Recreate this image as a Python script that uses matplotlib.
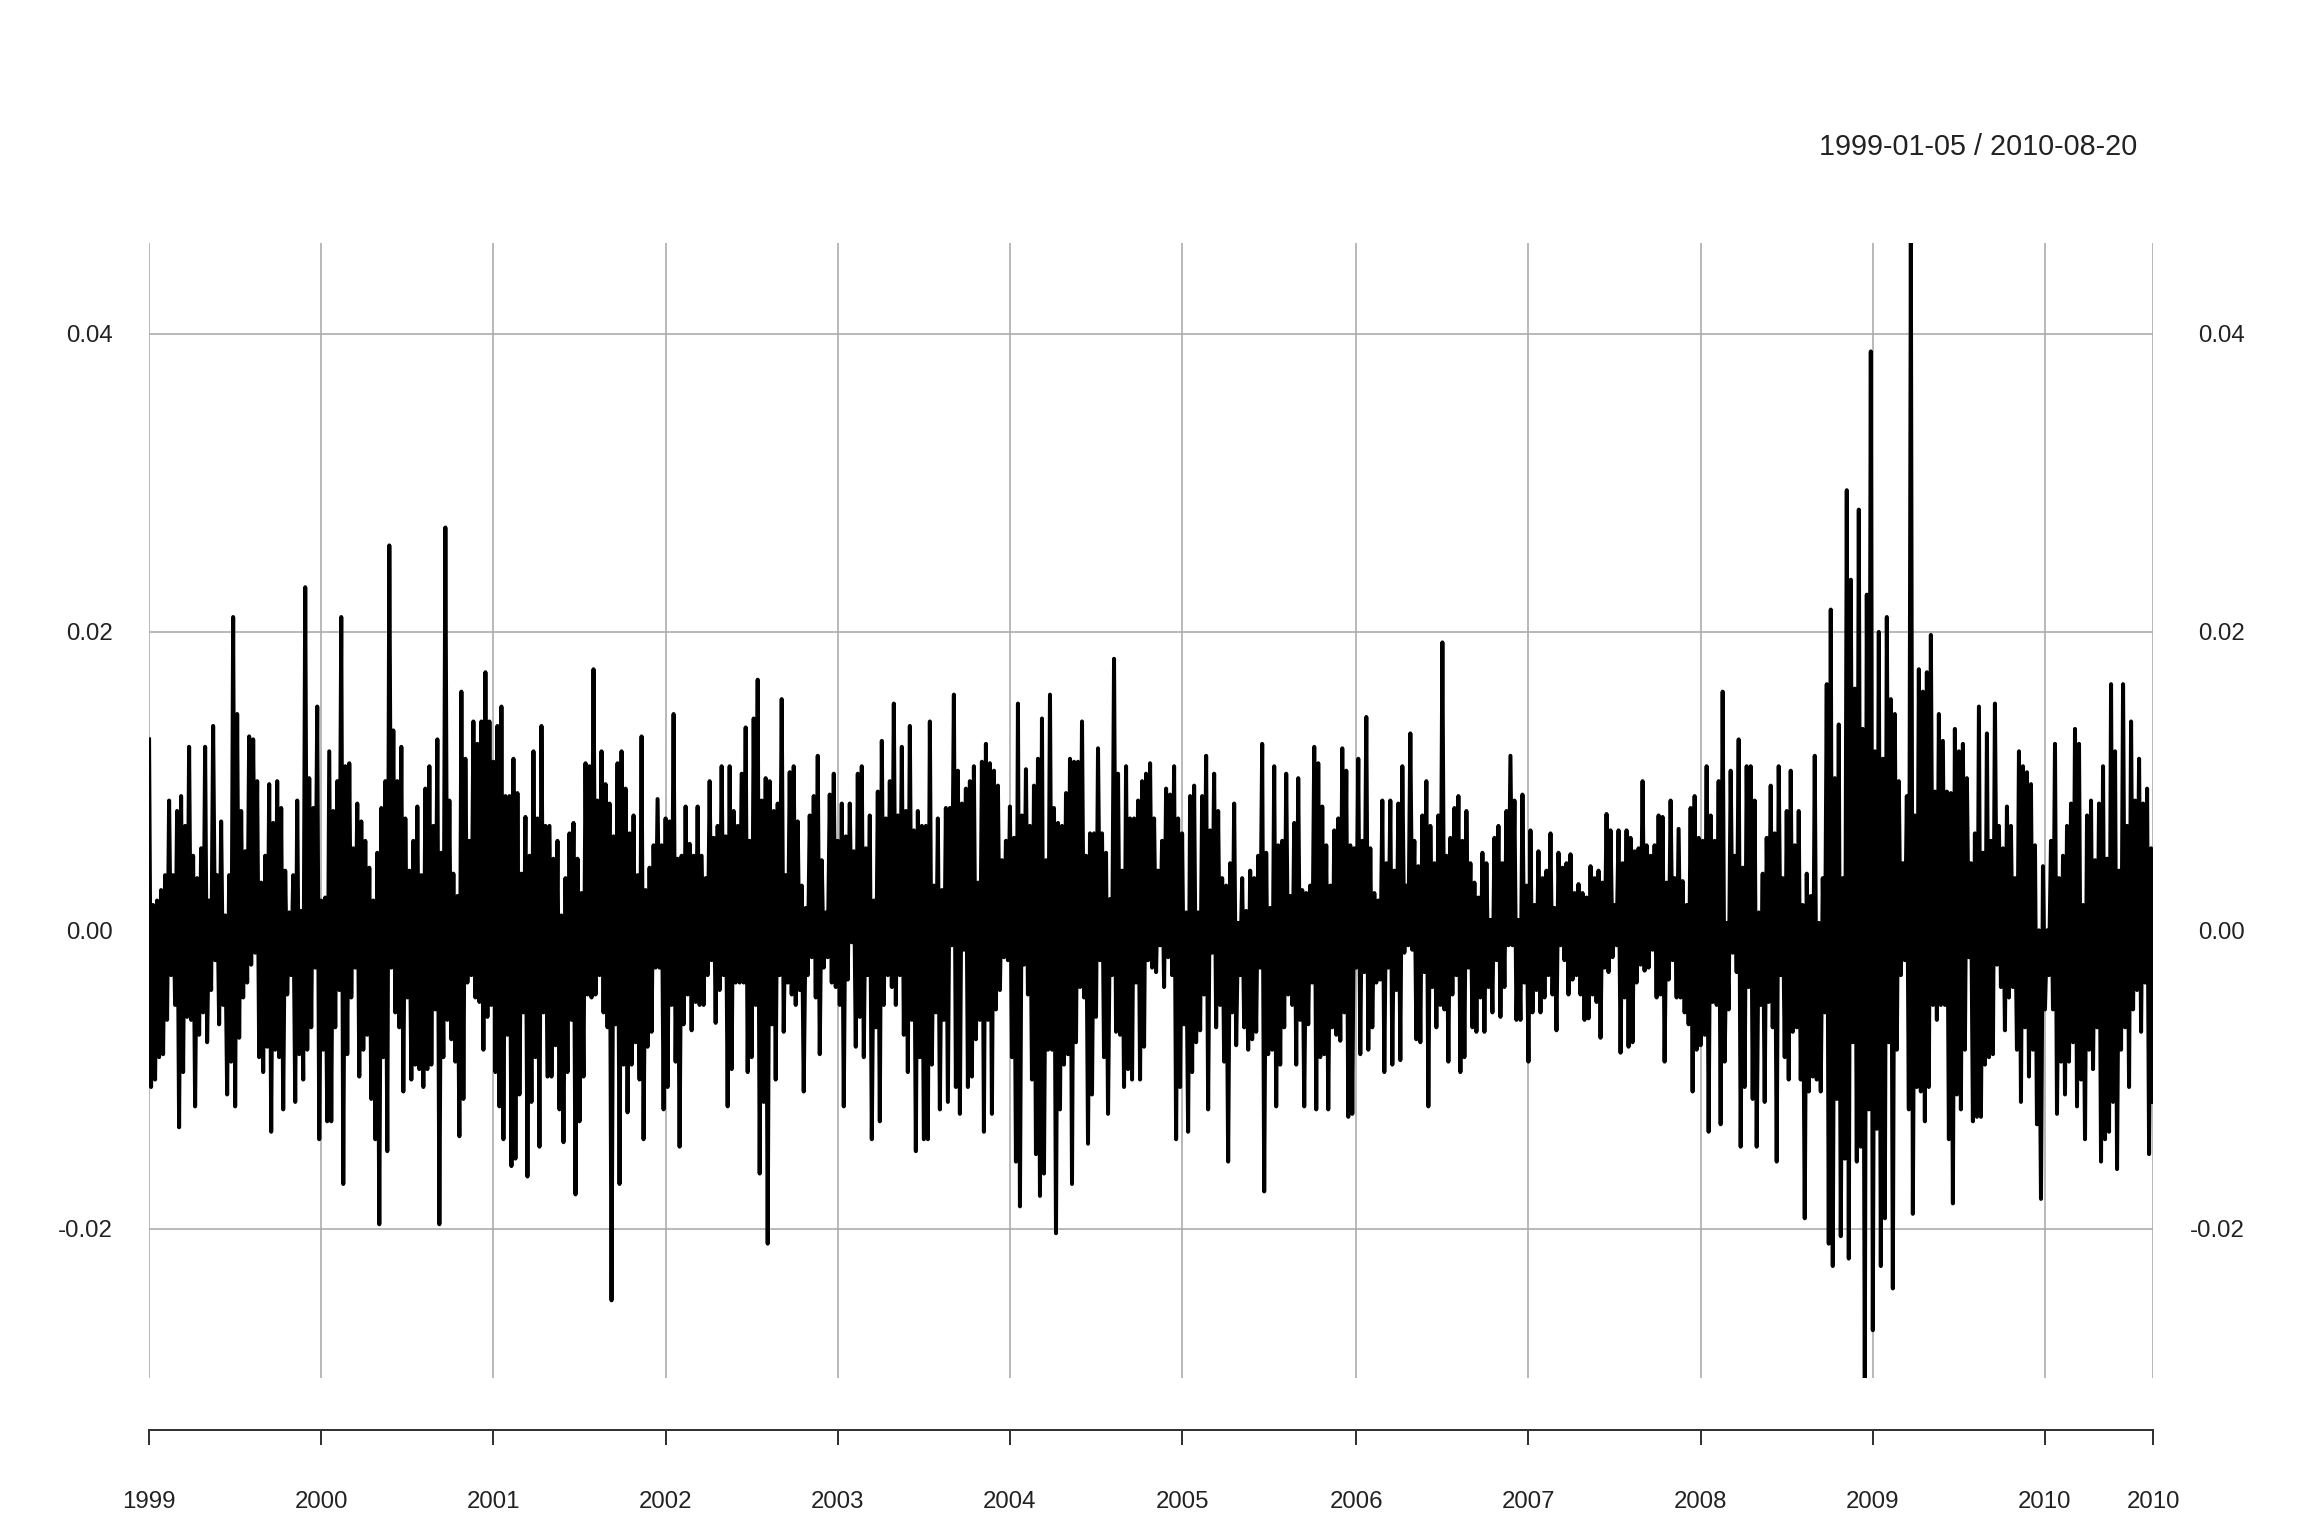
import matplotlib
matplotlib.use("Agg")
import matplotlib.pyplot as plt
import pandas as pd

plt.rcParams['font.family'] = ['Liberation Sans', 'DejaVu Sans']

# daily returns, in thousandths.
# the span is cut in 10 equal pieces (~1.16 years each); for every piece
# up = successive local highs, dn = successive local lows, left to right
up1 = [12.8, 1.7, 2, 2.7, 3.7, 8.7, 3.7, 8, 9, 7, 12.3, 5, 3.5, 5.5, 12.3, 2, 13.7, 3.7, 7.3, 1,
       3.7, 21, 14.5, 8, 5.3, 13, 12.8, 10, 3.2, 5, 9.8, 7.2, 10, 8.2, 4, 1.2, 3.7, 8.7, 1.3, 23,
       10.2, 8.2, 15, 2, 2.2, 12, 8, 10, 21, 11]
dn1 = [-10.5, -10, -8.5, -8.3, -6, -3, -5, -13.2, -9.5, -5.8, -6, -11.8, -7, -5.5, -7.5, -4, -2, -6.3, -5, -11,
       -8.8, -11.8, -7.2, -4.5, -3.5, -2.3, -1.5, -8.5, -9.5, -7.8, -13.5, -8, -8.5, -12, -4.3, -3, -11.5, -8.3, -10, -8,
       -6.5, -2.5, -14, -8, -12.8, -12.8, -6.5, -4, -17, -8.3]

up2 = [11.2, 5.5, 8.5, 7.3, 6, 4.2, 2, 5.2, 8.2, 10, 25.8, 13.4, 10, 12.3, 7.5, 4, 6, 8.3, 3.7, 9.5,
       11, 7, 12.8, 5.2, 27, 8.7, 3.8, 2.3, 16, 11.5, 6, 14, 12.5, 14, 17.3, 14, 11.3, 13.7, 15, 9,
       9, 11.5, 9.2, 3.8, 7.6, 5, 12, 7.5, 13.7, 7]
dn2 = [-4.5, -2.5, -9.8, -8, -7, -11.3, -14, -19.7, -8.5, -14.8, -2.5, -5.5, -6.5, -10.8, -4.5, -10, -9, -9.3, -10.5, -9.3,
       -9, -5.3, -19.7, -8.5, -6, -7.3, -8.8, -13.8, -11.3, -3.5, -3, -4.5, -4.8, -8, -5.8, -5, -9.5, -11.8, -14, -7,
       -15.8, -15.3, -11, -5.5, -16.5, -11.5, -8.5, -14.5, -5.5, -9.8]

up3 = [7, 4.8, 6, 1, 3.5, 6.5, 7.2, 4.8, 2.5, 11.2, 11, 17.5, 8.7, 12, 9.8, 8.5, 6.3, 11.2, 12, 9.5,
       6.5, 7.7, 3.7, 13, 2.7, 4.2, 5.7, 8.8, 5.7, 7.5, 7.3, 14.5, 4.8, 5, 8.3, 5.8, 5, 8.3, 5, 3.5,
       10, 6.2, 7, 11, 6.3, 11, 8, 7, 10.5, 13.6]
dn3 = [-9.8, -7.7, -12, -14.2, -9.5, -6, -17.7, -12.8, -9.8, -4.3, -4.5, -4.3, -3, -5.5, -6.5, -24.8, -6.3, -17, -9, -12.2,
       -9, -7.5, -10, -14, -7.8, -6.8, -2.5, -2.5, -12, -10.5, -5, -8.8, -14.5, -6.3, -4.3, -6.7, -4.8, -5, -5, -3,
       -2, -6.2, -4, -3, -11.8, -9.3, -3.5, -3.5, -3.5, -9.5]

up4 = [6, 14.2, 16.8, 8.7, 10.2, 10, 8, 8.5, 15.5, 3.7, 10.6, 11, 7.3, 3, 1.5, 7.7, 9, 11.7, 4.7, 1.2,
       9.1, 10.5, 6, 8.5, 6.3, 8.5, 5.3, 10.5, 11, 5.5, 7.7, 2, 9.3, 12.7, 7.5, 10, 15.2, 7.7, 12.3, 8,
       13.7, 6.7, 8, 7, 7, 14, 3, 7.5, 2.7, 8.2]
dn4 = [-8.5, -5, -16.3, -11.5, -21, -6.3, -10, -3, -6.8, -3.5, -4.3, -5, -4, -10.8, -3, -1.8, -4.5, -8.3, -2.5, -1.8,
       -3.5, -3.8, -5, -11.8, -3.3, -0.8, -7.8, -5.8, -8.5, -3, -14, -6.5, -12.8, -5, -3, -3.8, -5, -3, -7, -9.5,
       -6, -14.8, -8.5, -14, -14, -9, -5.5, -12, -6, -11.5]

up5 = [8.2, 15.8, 10.7, 8.5, 9.5, 10, 11, 3.2, 11.3, 12.5, 11.2, 10.7, 9.7, 4.7, 6, 8.3, 6.2, 15.2, 7.7, 10.8,
       7, 9.7, 11.5, 14.2, 4.7, 15.8, 8.2, 7.2, 7, 9.2, 11.5, 11.3, 11.3, 14, 5, 6.5, 6.5, 12.2, 6.5, 5.2,
       2.1, 18.2, 10.5, 4, 11, 7.5, 7.5, 8.7, 10, 10.5]
dn5 = [-1, -10.5, -12.3, -1.3, -10.5, -9.8, -7.3, -6, -13.5, -6, -12.3, -5.3, -4, -1.8, -2, -8.5, -15.5, -18.5, -2.3, -4.3,
       -10, -15, -17.8, -16.3, -8, -8, -20.3, -12, -9, -8.3, -17, -7.5, -3.8, -4.5, -14.3, -11, -5.8, -2, -8.5, -12.3,
       -3, -6.8, -7, -10.5, -9.3, -10, -3.5, -10, -7.8, -2]

up6 = [11.2, 7.5, 4, 6, 9.5, 9.1, 11, 7.5, 6.5, 1.2, 9, 9.7, 1.2, 9, 11.7, 6.7, 10.5, 8, 3.5, 3,
       4.5, 8.5, 0.5, 3.5, 1.3, 4, 3.5, 5, 12.5, 5.2, 1.5, 11, 5.7, 6, 10.5, 2.3, 7.2, 10.2, 2.7, 2.5,
       3, 12.3, 11.2, 8.3, 5.7, 3, 6.7, 7.5, 12.2, 10.7]
dn6 = [-2.5, -2.8, -1, -3.8, -1.8, -3, -14, -10.5, -6.3, -13.5, -9.5, -7.5, -6.7, -4.3, -12, -1.5, -6.5, -5, -8.8, -15.5,
       -5.5, -7.7, -3, -6.5, -8, -7.3, -6.8, -2.5, -17.5, -8.3, -8, -11.8, -9, -6.5, -4.3, -5, -9, -6, -11.8, -6.3,
       -3.5, -12, -8.5, -8.3, -12, -6.5, -7, -7.4, -5.5, -12.5]

up7 = [5.7, 5.5, 11.5, 6, 14.3, 5.5, 2.5, 2, 8.7, 4.5, 8.7, 4, 8.5, 11, 3, 13.2, 6, 4.3, 7.7, 10,
       7, 4.5, 7.7, 19.3, 5, 6.2, 8.2, 9, 6, 8, 4.5, 3.2, 2.2, 5.2, 4.5, 0.7, 6.2, 7, 4.5, 8,
       11.7, 8.7, 0.7, 9.1, 3, 6.7, 1.7, 5.3, 3.5, 4]
dn7 = [-12.3, -2.5, -8.3, -2.8, -8, -6.5, -3.5, -3.3, -9.5, -2.5, -9, -4, -8.7, -1.5, -1, -1.3, -7.3, -7.5, -2.8, -11.8,
       -3.8, -6.5, -5, -5.3, -8.8, -4.3, -3, -9.5, -8.5, -2.5, -6.5, -6.8, -4.5, -6.8, -3.8, -5.5, -2, -5.8, -3.8, -1,
       -1, -6, -6, -3.5, -8.8, -5.5, -4, -5.5, -4.5, -3]

up8 = [6.5, 1.5, 5.2, 4.2, 4.5, 5.1, 2.5, 3.1, 2.5, 2.2, 4.3, 3.5, 4, 3.2, 7.8, 6.7, 1.7, 6.7, 4.5, 6.7,
       6.2, 5.3, 5.5, 10, 5.7, 5, 5.7, 7.7, 7.6, 3.2, 8.7, 3.5, 6.8, 3.3, 1.7, 8.2, 9, 6.2, 6, 11,
       7.7, 6, 10, 16, 0.5, 10.7, 5, 12.8, 4.2, 11]
dn8 = [-4.3, -6.7, -1, -2, -4.3, -3.3, -3, -4.3, -6, -5.9, -4.3, -4.8, -7.2, -2.5, -2.8, -1.8, -1, -8.2, -4.5, -7.8,
       -7.5, -3.5, -2.3, -2.7, -2.5, -1.3, -4.5, -4.3, -8.8, -3.3, -2, -4.5, -4.5, -5.5, -6.3, -10.8, -8, -7.7, -7, -13.5,
       -4.8, -5, -13, -8.8, -5.3, -1.5, -2.8, -14.5, -10.5, -3.8]

up9 = [11, 8.7, 1.2, 3.8, 6.2, 9.7, 6.5, 11, 3.5, 8, 10.7, 5.7, 8, 1.7, 3.8, 2.3, 11.7, 0.5, 3.5, 16.5,
       21.5, 10.2, 13.8, 3.5, 29.5, 23.5, 16.2, 28.2, 13.5, 22.5, 38.8, 12, 20, 11.5, 21, 15.5, 14.5, 10, 4.5, 9,
       46.1, 7.7, 17.5, 16, 17.3, 19.8, 9.3, 14.5, 12.7, 9.3]
dn9 = [-11.3, -14.5, -5, -11.5, -4.8, -6.5, -15.5, -3, -8.5, -10, -6.8, -6.5, -10, -19.3, -10.8, -9.8, -10, -10.8, -5.5, -21,
       -22.5, -11.3, -20.5, -15.3, -22, -7.5, -15.5, -14.5, -30, -12, -26.8, -13.3, -22.5, -19.3, -7.5, -24, -8, -3, -2, -12,
       -19, -10.5, -10.8, -12.8, -10.5, -5, -6, -5, -5, -14]

up10 = [9.2, 13.5, 12, 12.5, 10.2, 4.5, 6.5, 15, 5.2, 13.2, 6, 15.2, 7, 5.5, 8.3, 7, 3.5, 12, 11, 10.6,
        9.8, 5.7, 0, 4.3, 0, 6, 12.5, 3.5, 5, 7, 8.5, 13.5, 12.5, 1.7, 7.7, 8.7, 4.7, 8.5, 11, 4.8,
        16.5, 12, 4, 16.5, 7, 14, 8.7, 11.5, 8.5, 9.5, 5.5]
dn10 = [-18.3, -11, -12, -8, -1.8, -12.8, -12.5, -12.5, -9, -8.5, -8.3, -2.3, -3.8, -6.7, -4.5, -3.8, -8, -11.5, -6.5, -9.8,
        -8, -13, -18, -5.3, -3, -5.3, -12.3, -8.8, -11, -8.8, -7.5, -11.8, -10, -14, -8, -9.3, -6.5, -15.5, -14, -13.5,
        -11.5, -16, -8, -6.5, -10.5, -5.3, -4, -6.8, -3.5, -15, -11.5]

start_date = "1999-01-05"
end_date = "2010-08-20"
y_ticks = [-0.02, 0.0, 0.02, 0.04]
y_labels = ["-0.02", "0.00", "0.02", "0.04"]

ups = [up1, up2, up3, up4, up5, up6, up7, up8, up9, up10]
dns = [dn1, dn2, dn3, dn4, dn5, dn6, dn7, dn8, dn9, dn10]

vals = []
for u, d in zip(ups, dns):
    assert len(u) == len(d)
    for a, b in zip(u, d):
        vals += [a / 1000, b / 1000]

dates = pd.date_range(start_date, end_date, periods=len(vals))
s = pd.Series(vals, index=dates)

# xts-style ticks: first observation of every year plus the last one
years = sorted(set(s.index.year))
x_ticks = [s.index[s.index.year == y][0] for y in years] + [s.index[-1]]
x_labels = [str(y) for y in years] + [str(s.index[-1].year)]

fig = plt.figure(figsize=(16, 16 * 1536 / 2304), dpi=144)
ax = fig.add_axes([0.0647, 0.1029, 0.8698, 0.7392])

ax.plot(s.index, s.values, color="black", lw=2.0)
ax.set_xlim(s.index[0], s.index[-1])
ax.set_ylim(s.min(), s.max())

ax.set_xticks(x_ticks)
ax.set_xticklabels(x_labels)
ax.set_yticks(y_ticks)
ax.set_yticklabels(y_labels)
ax.grid(True, color="darkgray", lw=0.8)
ax.set_axisbelow(True)

for side in ["top", "left", "right"]:
    ax.spines[side].set_visible(False)
ax.spines["bottom"].set_position(("outward", 26))
ax.spines["bottom"].set_color("#333333")
ax.spines["bottom"].set_linewidth(1.0)

ax.tick_params(axis="x", direction="out", length=7.5, width=1.0, color="#333333",
               pad=23, labelsize=12, labelcolor="#222222")
ax.tick_params(axis="y", length=0, pad=18, labelsize=12, labelcolor="#222222")

# same labels on the right, right-aligned like the R output
ax2 = ax.twinx()
ax2.set_ylim(ax.get_ylim())
ax2.set_yticks(y_ticks)
ax2.set_yticklabels(y_labels)
ax2.tick_params(axis="y", length=0, pad=46, labelsize=12, labelcolor="#222222")
plt.setp(ax2.get_yticklabels(), ha="right")
for sp in ax2.spines.values():
    sp.set_visible(False)

fig.text(2137 / 2304, 1 - 147 / 1536, f"{start_date} / {end_date}",
         ha="right", va="center", fontsize=14.4, color="#222222")

fig.savefig("out.png", dpi=144)
